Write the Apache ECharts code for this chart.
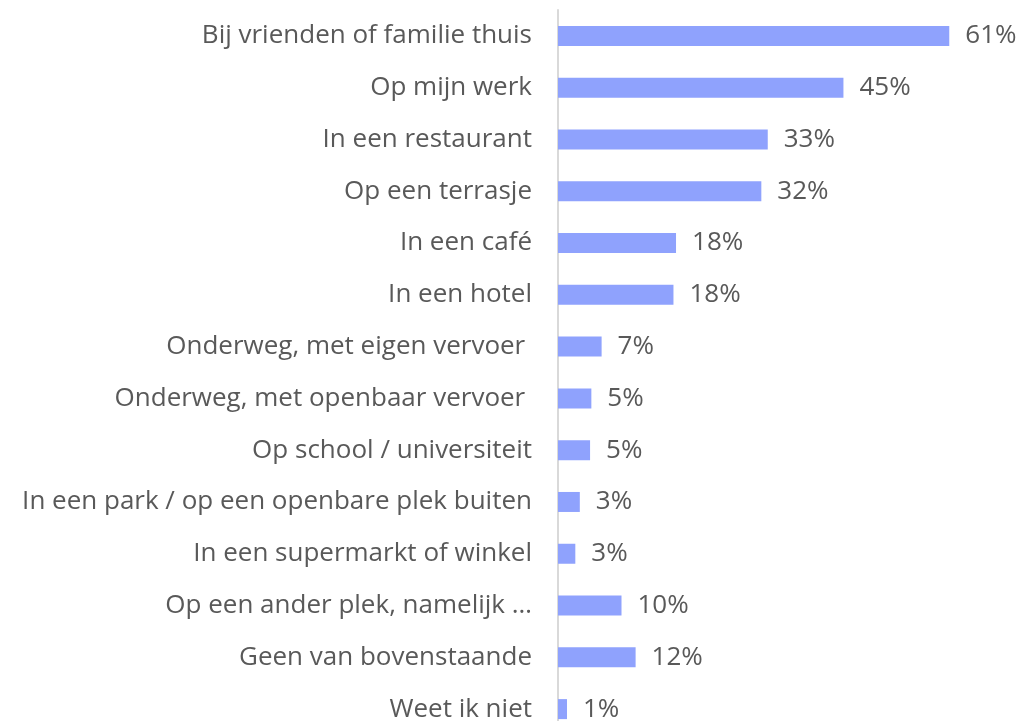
<!DOCTYPE html>
<html>
<head>
<meta charset="utf-8">
<script src="https://cdn.jsdelivr.net/npm/echarts@6/dist/echarts.min.js"></script>
<style>
  html, body { margin: 0; padding: 0; background: #fff; overflow: hidden; }
  #chart { width: 1022px; height: 721px; }
</style>
</head>
<body>
<div id="chart"></div>
<script>
// categories, top to bottom
var categories = [
    'Bij vrienden of familie thuis',
    'Op mijn werk',
    'In een restaurant',
    'Op een terrasje',
    'In een café',
    'In een hotel',
    'Onderweg, met eigen vervoer ',
    'Onderweg, met openbaar vervoer ',
    'Op school / universiteit',
    'In een park / op een openbare plek buiten',
    'In een supermarkt of winkel',
    'Op een ander plek, namelijk …',
    'Geen van bovenstaande',
    'Weet ik niet'
];
// percentages
var values = [61, 44.5, 32.7, 31.7, 18.4, 18.0, 6.8, 5.2, 5.0, 3.4, 2.7, 9.9, 12.1, 1.4];

var textColor = '#595959';
var fontName = 'Open Sans';

var chart = echarts.init(document.getElementById('chart'));
chart.setOption({
    animation: false,
    grid: {
        left: 558,
        top: 10,
        width: 449,
        height: 725,
        containLabel: false,
        outerBoundsMode: 'none'
    },
    xAxis: {
        type: 'value',
        min: 0,
        max: 70,
        show: false
    },
    yAxis: {
        type: 'category',
        inverse: true,
        data: categories,
        axisLine: { show: true, lineStyle: { color: '#d9d9d9', width: 2 } },
        axisTick: { show: false },
        axisLabel: {
            margin: 26,
            color: textColor,
            fontSize: 26,
            fontFamily: fontName
        }
    },
    series: [{
        type: 'bar',
        data: values,
        barWidth: 20,
        itemStyle: { color: '#8fa2fd' },
        label: {
            show: true,
            position: 'right',
            distance: 16,
            color: textColor,
            fontSize: 26,
            fontFamily: fontName,
            formatter: function (p) { return Math.round(p.value) + '%'; }
        }
    }]
});
</script>
</body>
</html>
